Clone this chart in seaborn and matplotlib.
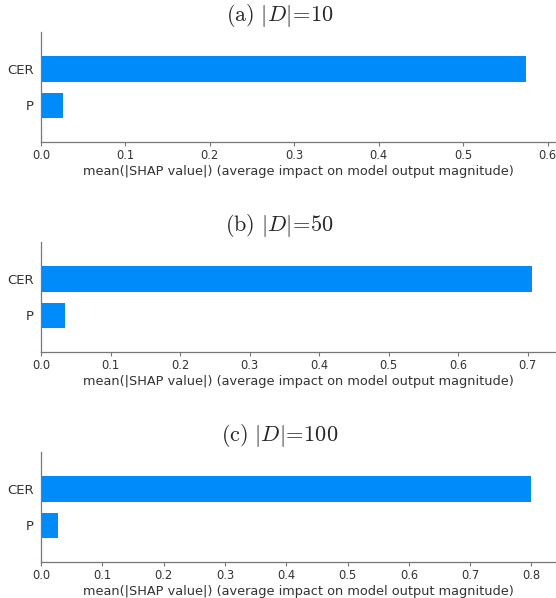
import matplotlib
matplotlib.use("Agg")
import matplotlib.pyplot as plt
import seaborn as sns
import pandas as pd

# Mean absolute SHAP value per feature, for three dataset sizes
features = ["CER", "P"]
shap_d10 = [0.574, 0.0265]
shap_d50 = [0.706, 0.035]
shap_d100 = [0.800, 0.0285]

titles = [r"$\mathrm{(a)}\ |D|\!=\!10$",
          r"$\mathrm{(b)}\ |D|\!=\!50$",
          r"$\mathrm{(c)}\ |D|\!=\!100$"]
xlims = [0.610, 0.741, 0.840]
xticks = [[0.0, 0.1, 0.2, 0.3, 0.4, 0.5, 0.6],
          [0.0, 0.1, 0.2, 0.3, 0.4, 0.5, 0.6, 0.7],
          [0.0, 0.1, 0.2, 0.3, 0.4, 0.5, 0.6, 0.7, 0.8]]
xlabel = "mean(|SHAP value|) (average impact on model output magnitude)"

sns.set_theme(style="white")
plt.rcParams["font.family"] = ["DejaVu Sans"]
plt.rcParams["mathtext.fontset"] = "cm"

W, H = 556, 598
fig = plt.figure(figsize=(W / 100, H / 100), dpi=100)

bar_color = "#008bfb"
text_color = "#333333"
axis_top_px = [32, 242, 452]
axis_h_px = 110
left_px = 41

for i, vals in enumerate([shap_d10, shap_d50, shap_d100]):
    top = axis_top_px[i]
    ax = fig.add_axes([left_px / W, 1 - (top + axis_h_px) / H,
                       1 - left_px / W, axis_h_px / H])
    df = pd.DataFrame({"feature": features, "value": vals})
    sns.barplot(data=df, x="value", y="feature", orient="h", color=bar_color,
                saturation=1, width=0.7, ax=ax, edgecolor=bar_color,
                linewidth=0)
    ax.set_ylim(2, -1)
    ax.set_xlim(0, xlims[i])
    ax.set_xticks(xticks[i])
    ax.set_xticklabels([f"{t:.1f}" for t in xticks[i]])
    ax.set_ylabel("")
    ax.set_xlabel(xlabel, fontsize=9.25, color=text_color, labelpad=2)
    for s in ("top", "right"):
        ax.spines[s].set_visible(False)
    for s in ("left", "bottom"):
        ax.spines[s].set_color("#777777")
        ax.spines[s].set_linewidth(0.9)
    ax.tick_params(axis="x", labelsize=8.3, colors=text_color, length=3,
                   width=0.8, direction="out", bottom=True, pad=2)
    ax.tick_params(axis="x", color="#777777")
    ax.tick_params(axis="y", labelsize=9.5, colors=text_color, length=0, pad=5)
    fig.text(279.5 / W, 1 - (top - 16.5) / H, titles[i], ha="center",
             va="center", fontsize=16)

fig.savefig("out.png", dpi=100)
